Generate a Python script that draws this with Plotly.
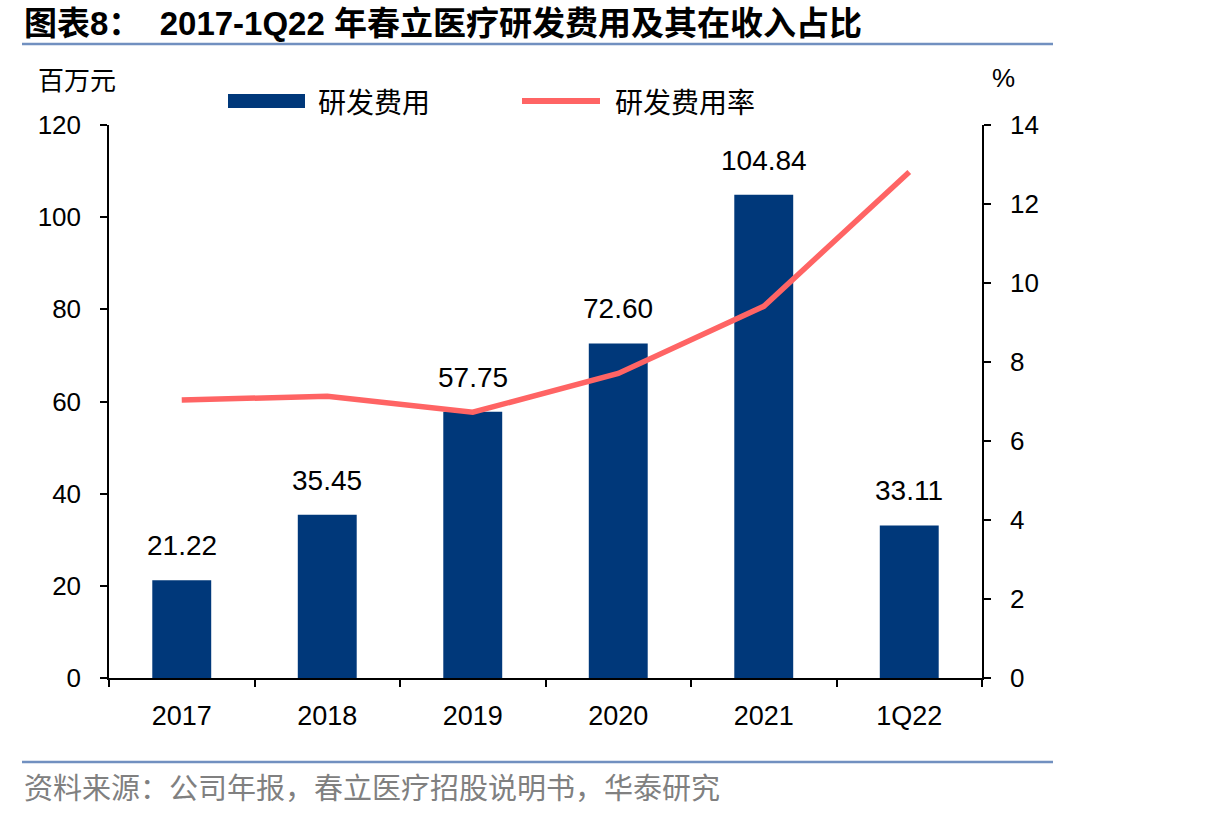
import plotly.graph_objects as go

categories = ["2017", "2018", "2019", "2020", "2021", "1Q22"]
rd_expense = [21.22, 35.45, 57.75, 72.60, 104.84, 33.11]
rd_ratio = [7.04, 7.13, 6.73, 7.71, 9.41, 12.81]
left_ticks = [0, 20, 40, 60, 80, 100, 120]
right_ticks = [0, 2, 4, 6, 8, 10, 12, 14]

W, H = 1206, 816
L, R, T, B = 109, 982, 125, 678
NUM_FONT = "Liberation Sans, Arial, Noto Sans CJK SC"
CJK_FONT = "Noto Sans CJK SC, Liberation Sans"
BAR_COLOR = "#00387A"
LINE_COLOR = "#FF6464"


def px(x):
    return (x - L) / (R - L)


def py(y):
    return (B - y) / (B - T)


fig = go.Figure()
fig.add_trace(go.Bar(
    x=categories, y=rd_expense, name="研发费用",
    marker=dict(color=BAR_COLOR, line=dict(width=0)),
    yaxis="y", showlegend=False,
))
fig.add_trace(go.Scatter(
    x=categories, y=rd_ratio, name="研发费用率", mode="lines",
    line=dict(color=LINE_COLOR, width=5.5),
    yaxis="y2", showlegend=False,
))

annotations = []
for i, v in enumerate(rd_expense):
    annotations.append(dict(
        x=i, y=v, xref="x", yref="y", text=f"{v:.2f}", showarrow=False,
        yanchor="bottom", yshift=17,
        font=dict(family=NUM_FONT, size=28, color="black"),
    ))

# title
annotations.append(dict(
    x=px(22), y=py(23), xref="paper", yref="paper", xanchor="left", yanchor="middle",
    text="<b>图表8：  2017-1Q22 年春立医疗研发费用及其在收入占比</b>", showarrow=False,
    font=dict(family=NUM_FONT, size=33, color="black"),
))
# unit labels
annotations.append(dict(
    x=px(36), y=py(78), xref="paper", yref="paper", xanchor="left", yanchor="middle",
    text="百万元", showarrow=False, font=dict(family=CJK_FONT, size=26, color="black"),
))
annotations.append(dict(
    x=px(1004), y=py(78), xref="paper", yref="paper", xanchor="center", yanchor="middle",
    text="%", showarrow=False, font=dict(family=NUM_FONT, size=26, color="black"),
))
# legend texts
annotations.append(dict(
    x=px(316), y=py(101), xref="paper", yref="paper", xanchor="left", yanchor="middle",
    text="研发费用", showarrow=False, font=dict(family=CJK_FONT, size=28, color="black"),
))
annotations.append(dict(
    x=px(613), y=py(101), xref="paper", yref="paper", xanchor="left", yanchor="middle",
    text="研发费用率", showarrow=False, font=dict(family=CJK_FONT, size=28, color="black"),
))
# source
annotations.append(dict(
    x=px(22), y=py(786), xref="paper", yref="paper", xanchor="left", yanchor="middle",
    text="资料来源：公司年报，春立医疗招股说明书，华泰研究", showarrow=False,
    font=dict(family=CJK_FONT, size=29, color="#808080"),
))

shapes = [
    dict(type="line", xref="paper", yref="paper", x0=px(22), x1=px(1053), y0=py(44), y1=py(44),
         line=dict(color="#7190C0", width=2.5)),
    dict(type="line", xref="paper", yref="paper", x0=px(22), x1=px(1053), y0=py(762), y1=py(762),
         line=dict(color="#7190C0", width=2.5)),
    dict(type="rect", xref="paper", yref="paper", x0=px(228), x1=px(305), y0=py(108), y1=py(94),
         fillcolor=BAR_COLOR, line=dict(width=0)),
    dict(type="line", xref="paper", yref="paper", x0=px(522), x1=px(600), y0=py(101), y1=py(101),
         line=dict(color=LINE_COLOR, width=6)),
]

axis_common = dict(
    showgrid=False, zeroline=False, showline=True, linecolor="black", linewidth=1.5,
    ticks="outside", tickcolor="black", tickwidth=1.5, ticklen=7,
    tickfont=dict(family=NUM_FONT, size=26, color="black"),
)

fig.update_layout(
    width=W, height=H,
    margin=dict(l=L, r=W - R, t=T, b=H - B),
    paper_bgcolor="white", plot_bgcolor="white",
    bargap=0.595,
    xaxis=dict(**{**axis_common, "tickfont": dict(family=NUM_FONT, size=27, color="black")},
               type="category", range=[-0.5, 5.5], tickson="boundaries",
               ticklabelstandoff=13),
    yaxis=dict(**axis_common, range=[0, 120], tickvals=left_ticks, ticklabelstandoff=14),
    yaxis2=dict(**axis_common, range=[0, 14], tickvals=right_ticks, overlaying="y", side="right",
                ticklabelstandoff=14),
    annotations=annotations,
    shapes=shapes,
    showlegend=False,
)

fig.write_html("out.html")
